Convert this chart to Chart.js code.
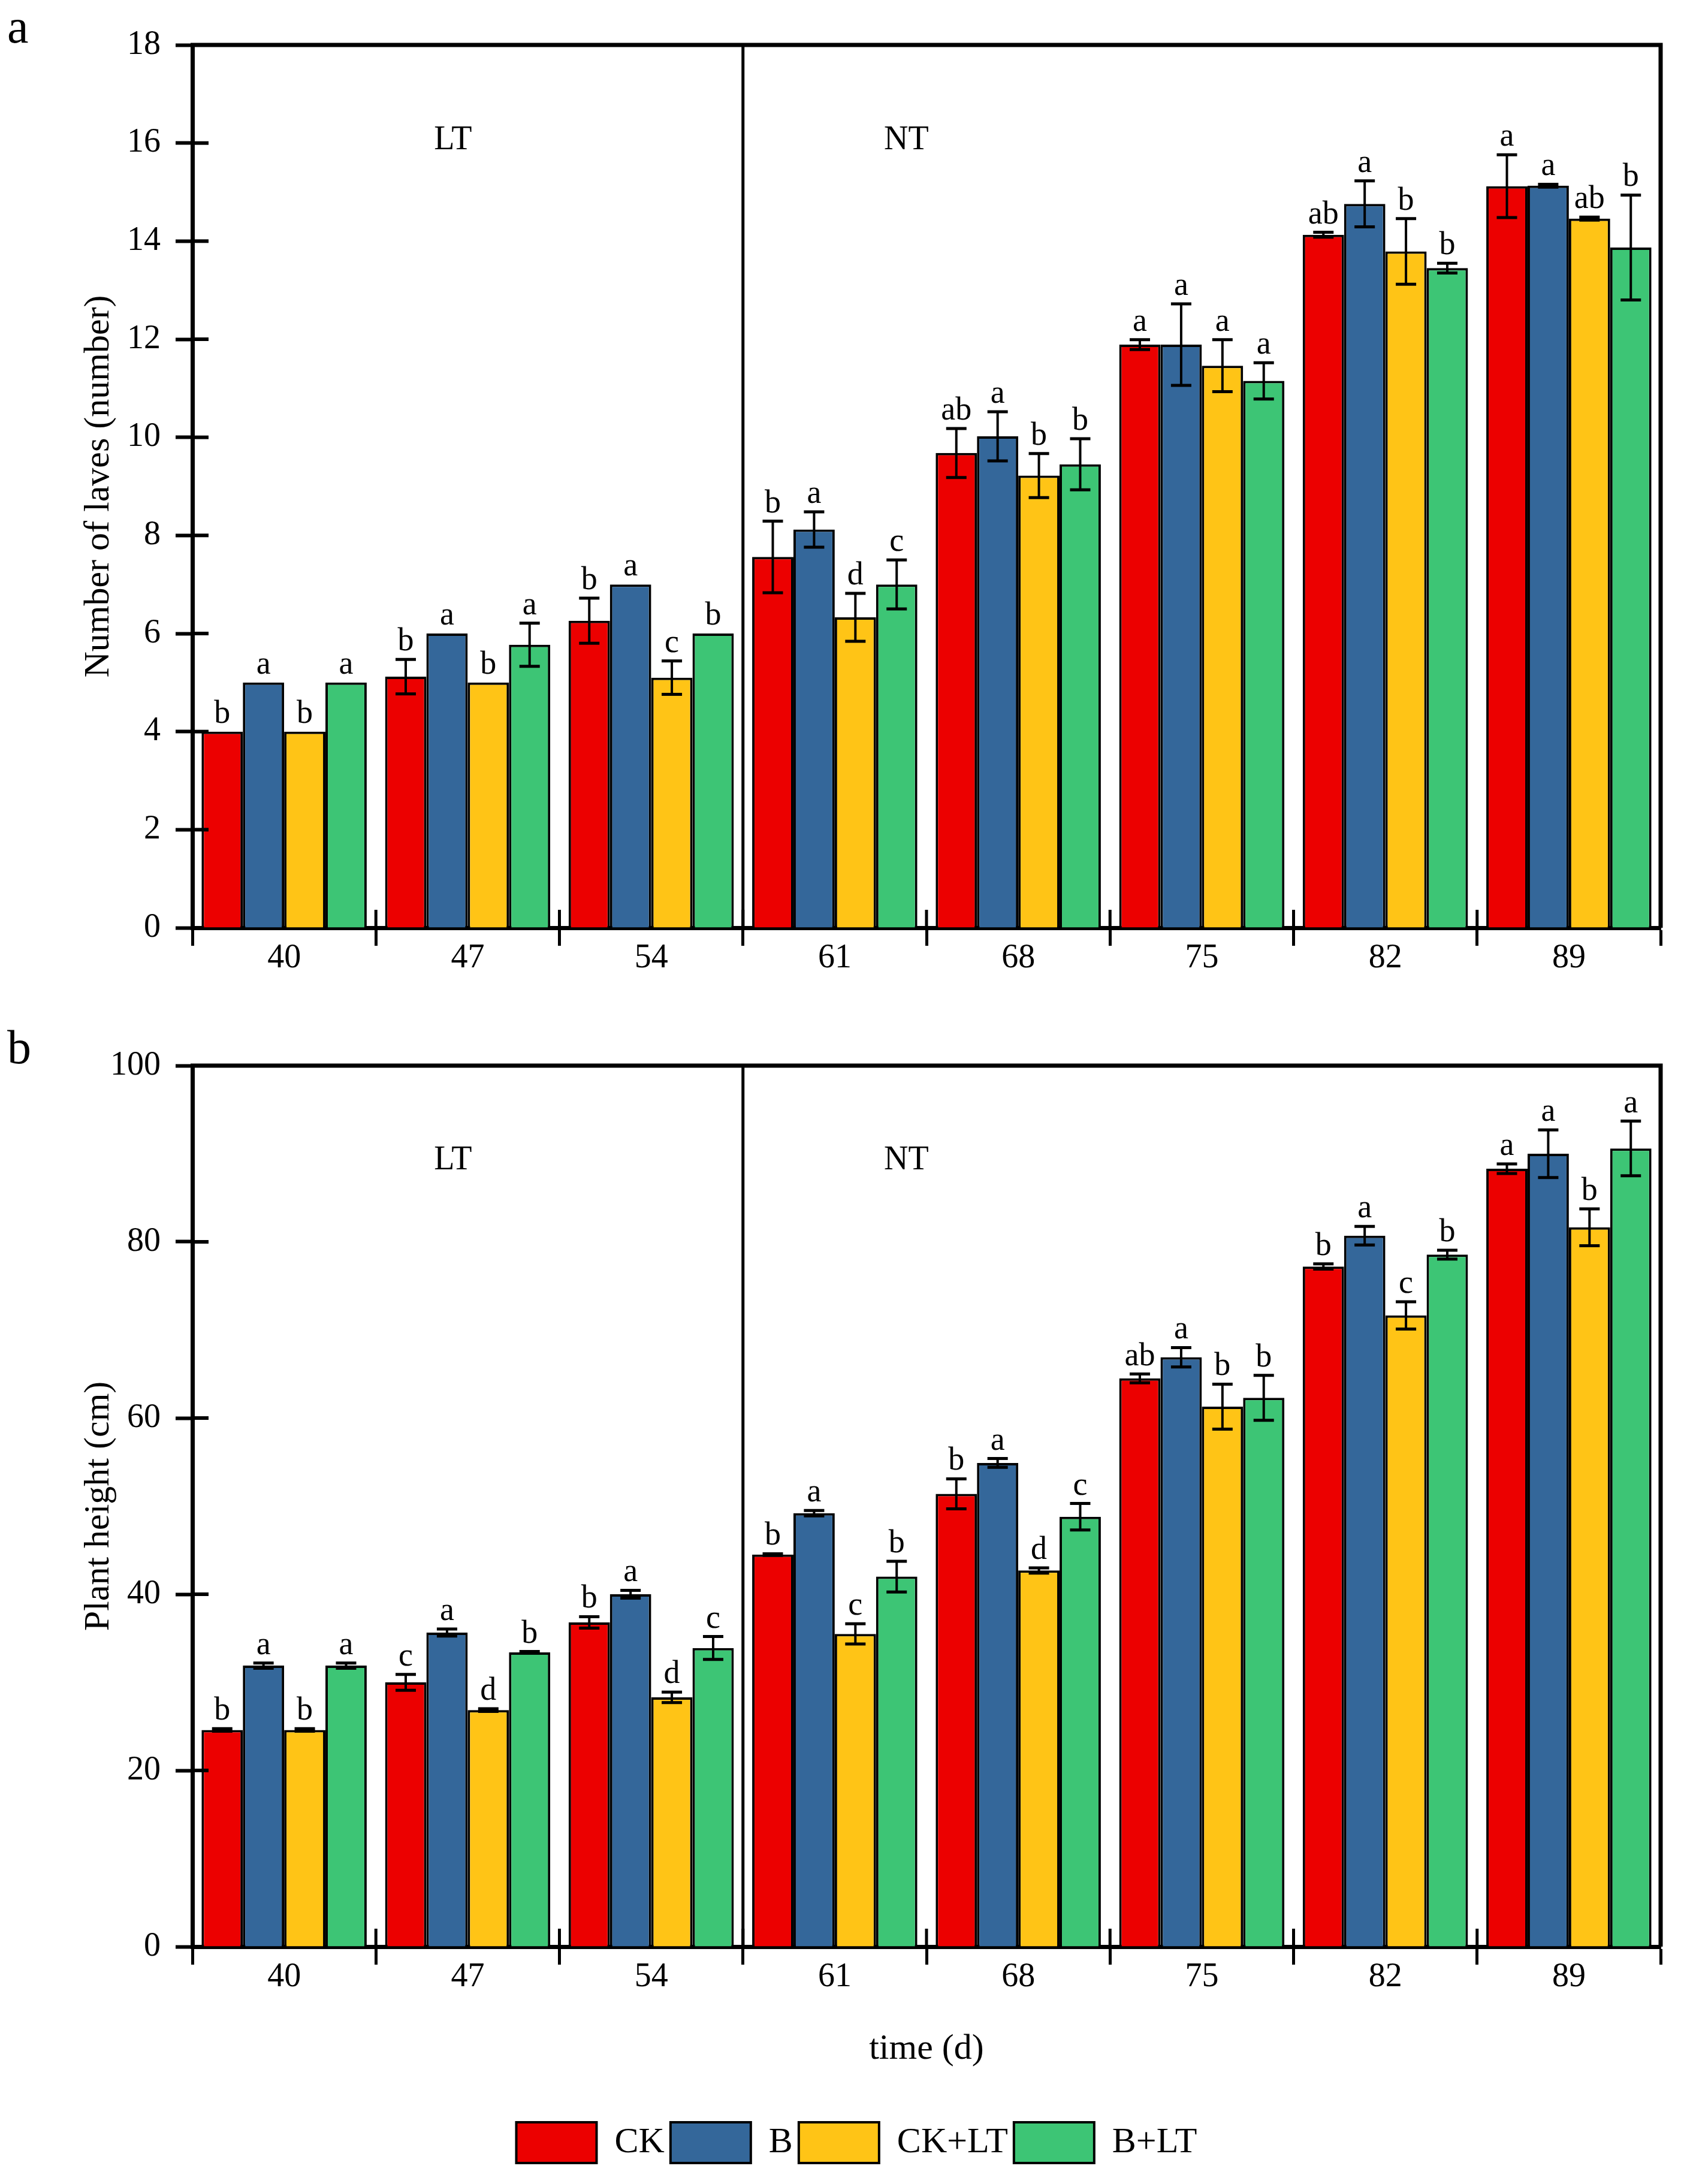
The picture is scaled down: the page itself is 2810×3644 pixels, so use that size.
<!DOCTYPE html>
<html><head><meta charset="utf-8">
<script src="https://cdn.jsdelivr.net/npm/chart.js@4.4.1/dist/chart.umd.min.js"></script>
<style>
html,body{margin:0;padding:0;background:#fff;}
#wrap{position:relative;width:2810px;height:3644px;background:#fff;}
canvas{position:absolute;left:0;}
</style></head><body>
<div id="wrap">
<canvas id="c1" width="2810" height="1700" style="top:0;width:2810px;height:1700px"></canvas>
<canvas id="c2" width="2810" height="1944" style="top:1700px;width:2810px;height:1944px"></canvas>
</div>
<script>
// ---------- data ----------
const categories = ['40','47','54','61','68','75','82','89'];
const seriesNames = ['CK','B','CK+LT','B+LT'];
const seriesColors = ['#EC0000','#34679A','#FFC416','#3DC575'];

// panel a: number of leaves
const leavesCK      = [4.0, 5.12, 6.26, 7.56, 9.68, 11.89, 14.13, 15.12];
const leavesCKErr   = [0, 0.35, 0.46, 0.73, 0.50, 0.10, 0.05, 0.64];
const leavesB       = [5.0, 6.0, 7.0, 8.12, 10.02, 11.89, 14.76, 15.13];
const leavesBErr    = [0, 0, 0, 0.36, 0.50, 0.83, 0.47, 0.03];
const leavesCKLT    = [4.0, 5.0, 5.10, 6.33, 9.22, 11.46, 13.79, 14.46];
const leavesCKLTErr = [0, 0, 0.34, 0.49, 0.45, 0.53, 0.67, 0.03];
const leavesBLT     = [5.0, 5.77, 6.0, 7.0, 9.45, 11.15, 13.45, 13.87];
const leavesBLTErr  = [0, 0.44, 0, 0.50, 0.52, 0.37, 0.10, 1.07];
const leavesLetCK   = ['b','b','b','b','ab','a','ab','a'];
const leavesLetB    = ['a','a','a','a','a','a','a','a'];
const leavesLetCKLT = ['b','b','c','d','b','a','b','ab'];
const leavesLetBLT  = ['a','a','b','c','b','a','b','b'];
const leavesTicks   = {min:0, max:18, step:2};

// panel b: plant height
const heightCK      = [24.6, 30.0, 36.8, 44.5, 51.4, 64.5, 77.2, 88.3];
const heightCKErr   = [0.15, 0.9, 0.65, 0.1, 1.7, 0.5, 0.3, 0.55];
const heightB       = [31.9, 35.65, 40.0, 49.2, 54.9, 66.9, 80.7, 90.0];
const heightBErr    = [0.3, 0.4, 0.45, 0.3, 0.5, 1.1, 1.05, 2.7];
const heightCKLT    = [24.6, 26.85, 28.3, 35.5, 42.7, 61.3, 71.65, 81.65];
const heightCKLTErr = [0.15, 0.15, 0.6, 1.15, 0.3, 2.55, 1.55, 2.1];
const heightBLT     = [31.9, 33.4, 33.9, 42.0, 48.8, 62.3, 78.55, 90.6];
const heightBLTErr  = [0.3, 0.1, 1.3, 1.75, 1.5, 2.55, 0.5, 3.1];
const heightLetCK   = ['b','c','b','b','b','ab','b','a'];
const heightLetB    = ['a','a','a','a','a','a','a','a'];
const heightLetCKLT = ['b','d','d','c','d','b','c','b'];
const heightLetBLT  = ['a','b','c','b','c','b','b','a'];
const heightTicks   = {min:0, max:100, step:20};

// zone labels (category position, y value)
const zoneLabelsA = [{text:'LT', cat:0.92, y:16.05}, {text:'NT', cat:3.39, y:16.05}];
const zoneLabelsB = [{text:'LT', cat:0.92, y:89.2}, {text:'NT', cat:3.39, y:89.2}];

// ---------- drawing ----------
const FONT = "'Liberation Serif','Times New Roman',Times,serif";

function makePlugin(cfg){
  return {
    id: 'panel_' + cfg.panel,
    afterDatasetsDraw(chart){
      const ctx = chart.ctx, ys = chart.scales.y;
      ctx.save();
      chart.data.datasets.forEach((ds, di) => {
        const meta = chart.getDatasetMeta(di);
        meta.data.forEach((bar, i) => {
          const v = ds.data[i], e = cfg.errors[di][i];
          const x = bar.x;
          const yt = ys.getPixelForValue(v + e), yb = ys.getPixelForValue(v - e);
          if (e > 0){
            ctx.strokeStyle = '#000';
            ctx.lineWidth = 4;
            ctx.beginPath(); ctx.moveTo(x, yt); ctx.lineTo(x, yb); ctx.stroke();
            ctx.lineWidth = 5;
            ctx.beginPath();
            ctx.moveTo(x - 17, yt); ctx.lineTo(x + 17, yt);
            ctx.moveTo(x - 17, yb); ctx.lineTo(x + 17, yb);
            ctx.stroke();
          }
          ctx.fillStyle = '#000';
          ctx.font = '54px ' + FONT;
          ctx.textAlign = 'center';
          ctx.textBaseline = 'alphabetic';
          ctx.fillText(cfg.letters[di][i], x, Math.min(yt, bar.y) - 15);
        });
      });
      ctx.restore();
    },
    afterDraw(chart){
      const ctx = chart.ctx, a = chart.chartArea, xs = chart.scales.x, ys = chart.scales.y;
      const n = chart.data.labels.length;
      const catW = (xs.right - xs.left) / n;
      ctx.save();
      ctx.strokeStyle = '#000';
      // top & right frame
      ctx.lineWidth = 7;
      ctx.beginPath();
      ctx.moveTo(a.left - 3, a.top); ctx.lineTo(a.right, a.top); ctx.lineTo(a.right, a.bottom);
      ctx.stroke();
      // divider between LT and NT
      ctx.lineWidth = 5;
      const xd = xs.left + 3 * catW;
      ctx.beginPath(); ctx.moveTo(xd, a.top); ctx.lineTo(xd, a.bottom); ctx.stroke();
      // inner tick parts
      ctx.lineWidth = 6;
      ys.ticks.forEach(t => {
        const py = ys.getPixelForValue(t.value);
        if (t.value === ys.max || t.value === ys.min) return;
        ctx.beginPath(); ctx.moveTo(a.left, py); ctx.lineTo(a.left + 27, py); ctx.stroke();
      });
      ctx.lineWidth = 5;
      for (let i = 1; i < n; i++){
        const px = xs.left + i * catW;
        ctx.beginPath(); ctx.moveTo(px, a.bottom); ctx.lineTo(px, a.bottom - 30); ctx.stroke();
      }
      // zone labels
      ctx.fillStyle = '#000';
      ctx.font = '56px ' + FONT;
      ctx.textAlign = 'center';
      ctx.textBaseline = 'middle';
      cfg.zones.forEach(z => {
        ctx.fillText(z.text, xs.left + (z.cat + 0.5) * catW, ys.getPixelForValue(z.y));
      });
      // panel letter
      ctx.font = '80px ' + FONT;
      ctx.textAlign = 'left';
      ctx.textBaseline = 'alphabetic';
      ctx.fillText(cfg.panel, 12, cfg.panelBaseline);
      ctx.restore();
    }
  };
}

function datasets(vals){
  return vals.map((d, i) => ({
    label: seriesNames[i],
    data: d,
    backgroundColor: seriesColors[i],
    borderColor: '#000',
    borderWidth: 4,
    categoryPercentage: 0.9,
    barPercentage: 1.0
  }));
}

function makeChart(id, opts){
  return new Chart(document.getElementById(id), {
    type: 'bar',
    data: { labels: categories, datasets: datasets(opts.values) },
    plugins: [makePlugin(opts.plugin)],
    options: {
      responsive: false,
      animation: false,
      devicePixelRatio: 1,
      events: [],
      layout: { padding: opts.padding },
      plugins: {
        legend: opts.legend,
        tooltip: { enabled: false },
        title: { display: false }
      },
      scales: {
        x: {
          grid: { display: true, offset: true, drawOnChartArea: false, drawTicks: true,
                  tickLength: 30, tickWidth: 5, tickColor: '#000', color: '#000' },
          border: { display: true, color: '#000', width: 7 },
          ticks: { color: '#000', font: { family: FONT, size: 56 }, padding: -12, maxRotation: 0 },
          title: opts.xTitle,
          afterFit: s => { s.height = opts.xHeight; }
        },
        y: {
          min: opts.ticks.min, max: opts.ticks.max,
          grid: { display: true, drawOnChartArea: false, drawTicks: true,
                  tickLength: 28, tickWidth: 6, tickColor: '#000', color: '#000' },
          border: { display: true, color: '#000', width: 7 },
          ticks: { stepSize: opts.ticks.step, color: '#000', font: { family: FONT, size: 56 }, padding: 25 },
          title: { display: true, text: opts.yTitle, color: '#000',
                   font: { family: FONT, size: 60 }, padding: { top: opts.yTitlePad, bottom: 0 } },
          afterFit: s => { s.width = opts.yWidth; }
        }
      }
    }
  });
}

makeChart('c1', {
  values: [leavesCK, leavesB, leavesCKLT, leavesBLT],
  ticks: leavesTicks,
  yTitle: 'Number of laves (number)',
  yTitlePad: 129,
  yWidth: 321,
  xTitle: { display: false },
  xHeight: 152,
  padding: { top: 75, right: 39, left: 0, bottom: 0 },
  legend: { display: false },
  plugin: {
    panel: 'a', panelBaseline: 71,
    errors: [leavesCKErr, leavesBErr, leavesCKLTErr, leavesBLTErr],
    letters: [leavesLetCK, leavesLetB, leavesLetCKLT, leavesLetBLT],
    zones: zoneLabelsA
  }
});

makeChart('c2', {
  values: [heightCK, heightB, heightCKLT, heightBLT],
  ticks: heightTicks,
  yTitle: 'Plant height (cm)',
  yTitlePad: 41,
  yWidth: 233,
  xTitle: { display: true, text: 'time (d)', color: '#000', font: { family: FONT, size: 60 },
            padding: { top: 0, bottom: 76 } },
  xHeight: 283,
  padding: { top: 78, right: 39, left: 88, bottom: 25 },
  legend: {
    display: true, position: 'bottom',
    labels: { color: '#000', font: { family: FONT, size: 60 }, boxWidth: 134, boxHeight: 68, padding: 10 }
  },
  plugin: {
    panel: 'b', panelBaseline: 74,
    errors: [heightCKErr, heightBErr, heightCKLTErr, heightBLTErr],
    letters: [heightLetCK, heightLetB, heightLetCKLT, heightLetBLT],
    zones: zoneLabelsB
  }
});
</script>
</body></html>
